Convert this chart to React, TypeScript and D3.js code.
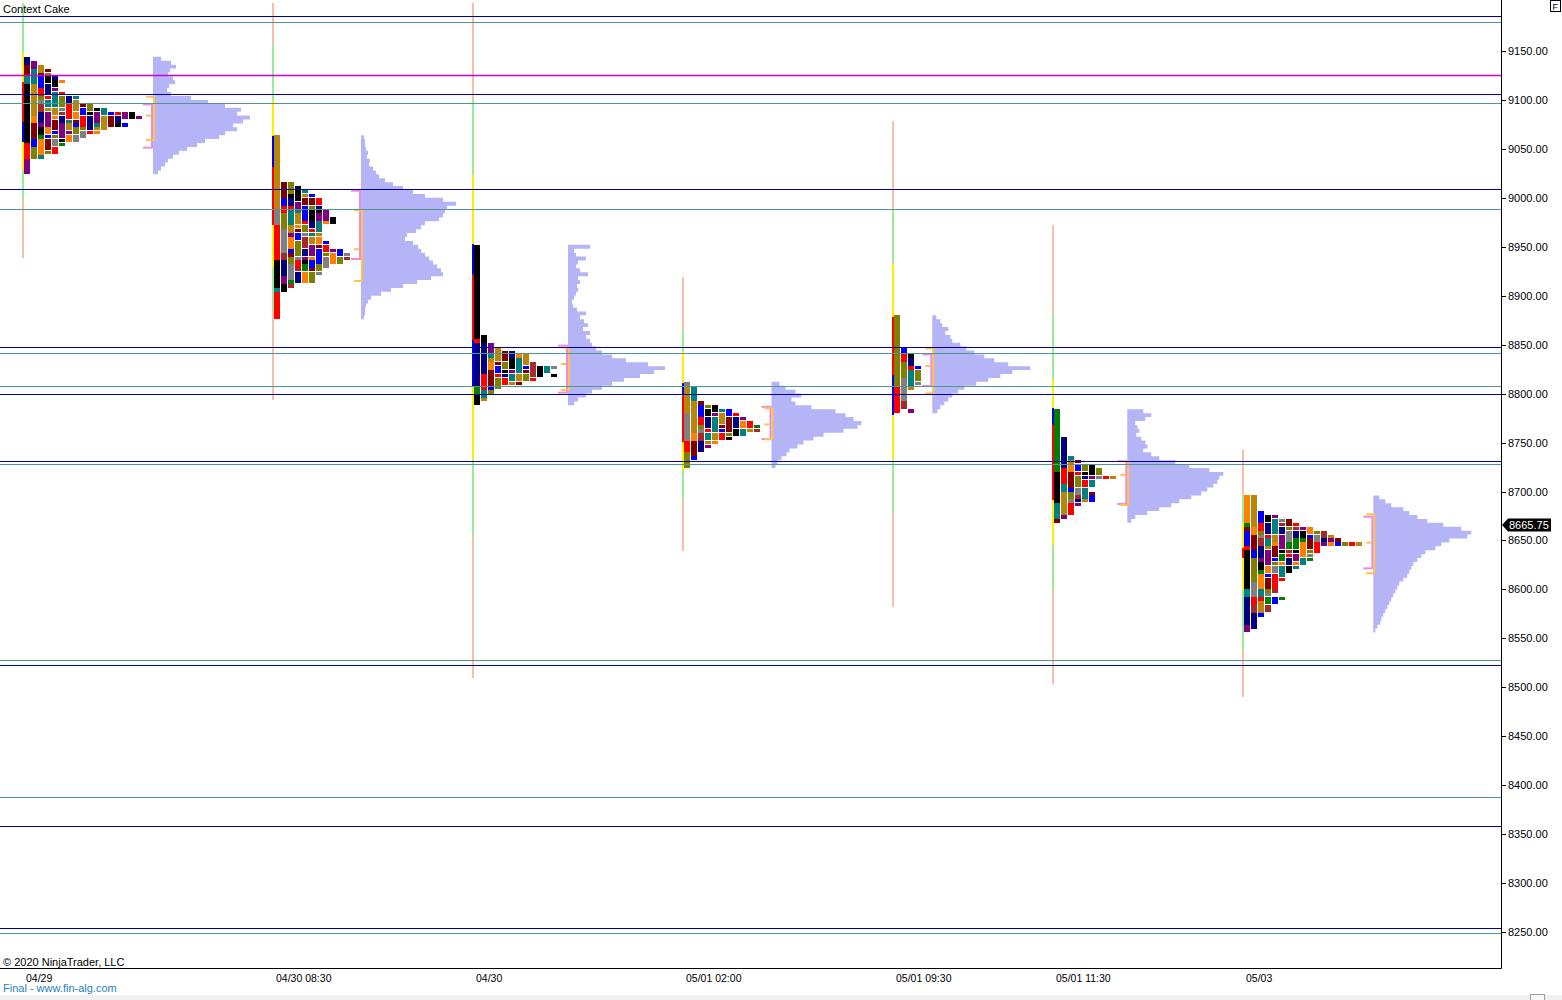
import React from 'react';
import * as d3 from 'd3';

// ---------- DATA ----------
const priceTicks = [9150, 9100, 9050, 9000, 8950, 8900, 8850, 8800, 8750, 8700, 8650, 8600, 8550, 8500, 8450, 8400, 8350, 8300, 8250];
const sessionLabels = ['04/29', '04/30 08:30', '04/30', '05/01 02:00', '05/01 09:30', '05/01 11:30', '05/03'];
const sessionSlots = [0, 25, 45, 66, 87, 103, 122];
const vpSlots = [13.0, 33.8, 54.5, 74.85, 90.93, 110.43, 135.03];
const profileTops = [9144, 9064, 8952, 8812, 8880, 8784, 8696];
const TPO_STEP = 4;
const lastPrice = 8665.75;

const navyLevels = [9185.75, 9106, 9009, 8847.5, 8799.5, 8731, 8522.75, 8358.25, 8254];
const tealLevels = [9179.5, 9097, 8988.5, 8841.5, 8807.75, 8728, 8528, 8388, 8249];
const magentaLevels = [9125.5];

// TPO columns: [column, high, low]
const tpoS1 = [[0, 9144, 9024], [1, 9140, 9040], [2, 9136, 9040], [3, 9132, 9044], [4, 9124, 9044], [5, 9120, 9116], [5, 9108, 9052], [6, 9104, 9056], [7, 9104, 9056], [8, 9096, 9060], [9, 9096, 9064], [10, 9092, 9064], [11, 9092, 9068], [12, 9088, 9072], [13, 9088, 9072], [14, 9088, 9080], [14, 9076, 9072], [15, 9088, 9080], [16, 9084, 9080]];
const tpoS2 = [[0, 9064, 8876], [1, 9016, 8904], [2, 9016, 8908], [3, 9012, 8912], [4, 9008, 8912], [5, 9004, 8912], [6, 9000, 8920], [7, 8988, 8972], [7, 8956, 8928], [8, 8980, 8972], [8, 8948, 8932], [9, 8948, 8932], [10, 8944, 8936]];
const tpoS3 = [[0, 8952, 8788], [1, 8860, 8792], [2, 8852, 8800], [3, 8848, 8804], [4, 8844, 8808], [5, 8844, 8808], [6, 8840, 8808], [7, 8840, 8812], [8, 8832, 8812], [9, 8828, 8816], [10, 8828, 8820], [11, 8828, 8824], [11, 8820, 8816]];
const tpoS4 = [[0, 8812, 8724], [1, 8808, 8732], [2, 8792, 8740], [3, 8788, 8744], [4, 8788, 8748], [5, 8784, 8752], [6, 8784, 8752], [7, 8780, 8756], [8, 8776, 8756], [9, 8772, 8760], [10, 8768, 8760]];
const tpoS5 = [[0, 8880, 8780], [1, 8848, 8784], [2, 8840, 8804], [2, 8784, 8780], [3, 8828, 8808]];
const tpoS6 = [[0, 8784, 8668], [1, 8756, 8672], [2, 8736, 8676], [3, 8732, 8684], [4, 8728, 8688], [5, 8728, 8704], [5, 8700, 8688], [6, 8724, 8712], [7, 8716, 8712], [8, 8716, 8712]];
const tpoS7 = [[0, 8696, 8556], [1, 8696, 8560], [2, 8680, 8572], [3, 8676, 8576], [4, 8676, 8596], [4, 8592, 8584], [5, 8672, 8608], [5, 8592, 8588], [6, 8672, 8616], [7, 8668, 8620], [8, 8664, 8624], [9, 8664, 8628], [10, 8660, 8636], [11, 8660, 8644], [12, 8656, 8644], [13, 8652, 8644], [14, 8648, 8644], [15, 8648, 8644], [16, 8648, 8644]];

// Volume profiles (relative volume per 4-pt row, from top)
const vpS1 = [8, 18, 23, 17, 15, 20, 22, 16, 14, 18, 38, 55, 72, 88, 84, 97, 90, 80, 84, 72, 66, 52, 44, 34, 26, 20, 15, 12, 8, 5];
const vpS2 = [3, 4, 4, 5, 7, 6, 9, 8, 12, 15, 18, 24, 32, 42, 52, 64, 82, 95, 86, 84, 82, 78, 64, 60, 55, 46, 44, 52, 57, 60, 64, 68, 72, 76, 80, 82, 70, 56, 42, 30, 20, 10, 7, 5, 4, 4, 3];
const vpS3 = [22, 6, 8, 18, 10, 8, 12, 20, 10, 12, 9, 10, 8, 6, 4, 5, 9, 18, 12, 16, 20, 15, 22, 18, 22, 24, 28, 34, 44, 58, 80, 97, 86, 72, 56, 44, 34, 24, 18, 10, 6];
const vpS4 = [8, 14, 24, 30, 20, 24, 40, 64, 74, 82, 90, 86, 72, 52, 42, 32, 26, 18, 15, 10, 6, 4];
const vpS5 = [4, 8, 10, 16, 13, 18, 20, 28, 34, 42, 52, 62, 76, 98, 80, 68, 56, 44, 32, 26, 20, 16, 12, 8, 5];
const vpS6 = [16, 24, 18, 8, 10, 12, 9, 14, 18, 20, 16, 24, 32, 48, 62, 82, 96, 92, 90, 86, 80, 74, 64, 52, 44, 32, 20, 8, 4];
const vpS7 = [6, 12, 18, 30, 36, 44, 54, 70, 88, 98, 94, 76, 68, 62, 52, 48, 44, 40, 38, 36, 34, 30, 26, 24, 22, 20, 18, 16, 14, 12, 10, 8, 7, 4, 2];

const pinkVA = [[9095.5, 9051.25], [9007.25, 8937.5], [8849, 8801], [8786.5, 8753.5], [8840.25, 8807.75], [8731, 8687.25], [8674.25, 8621.5]];
const orangeVA = [[9103.25, 9059], [8987.5, 8915], [8847.25, 8803.75], [8785, 8753.5], [8846.25, 8800.25], [8731, 8686.25], [8676.75, 8616.5]];
const tpoPOC = [9084, 8947.5, 8830.25, 8768.5, 8828.25, 8717, 8647.75];

// Session range line segments: [high, low, kind]
const lineS1 = [[9199, 9149, 'g'], [9149, 9118.25, 'y'], [9118.25, 9077.5, 'r'], [9077.5, 9057, 'b'], [9057, 9028.5, 'y'], [9028.5, 8997.75, 'g'], [8997.75, 8938.5, 's']];
const lineS2 = [[9199, 9156, 's'], [9156, 9100, 'g'], [9100, 9063.25, 'y'], [9063.25, 9031.5, 'b'], [9031.5, 8972.25, 'r'], [8972.25, 8929.25, 'y'], [8929.25, 8883.5, 'g'], [8883.5, 8793.5, 's']];
const lineS3 = [[9199, 9100, 's'], [9100, 9023.25, 'g'], [9023.25, 8952.75, 'y'], [8952.75, 8921.25, 'b'], [8921.25, 8854.75, 'r'], [8854.75, 8806.75, 'b'], [8806.75, 8732.25, 'y'], [8732.25, 8655.5, 'g'], [8655.5, 8509.5, 's']];
const lineS4 = [[8919, 8865, 's'], [8865, 8842.5, 'g'], [8842.5, 8810.75, 'y'], [8810.75, 8798.5, 'b'], [8798.5, 8750.5, 'r'], [8750.5, 8722, 'y'], [8722, 8691.25, 'g'], [8691.25, 8639.25, 's']];
const lineS5 = [[9078.5, 8988.5, 's'], [8988.5, 8932.5, 'g'], [8932.5, 8878.25, 'y'], [8878.25, 8819, 'r'], [8819, 8778, 'b'], [8778, 8732.25, 'y'], [8732.25, 8679, 'g'], [8679, 8582, 's']];
const lineS6 = [[8972.25, 8880.25, 's'], [8880.25, 8813.75, 'g'], [8813.75, 8785.25, 'y'], [8785.25, 8768, 'b'], [8768, 8691.25, 'r'], [8691.25, 8645.25, 'y'], [8645.25, 8599.5, 'g'], [8599.5, 8503.25, 's']];
const lineS7 = [[8742.5, 8696.5, 's'], [8696.5, 8667.75, 'g'], [8667.75, 8642.25, 'y'], [8642.25, 8632, 'r'], [8632, 8599.5, 'y'], [8599.5, 8538, 'g'], [8538, 8490, 's']];

const tpoData = [tpoS1, tpoS2, tpoS3, tpoS4, tpoS5, tpoS6, tpoS7];
const vpData = [vpS1, vpS2, vpS3, vpS4, vpS5, vpS6, vpS7];
const lineData = [lineS1, lineS2, lineS3, lineS4, lineS5, lineS6, lineS7];

// ---------- STYLE ----------
const PAL = ['#000080', '#800000', '#008080', '#000000', '#808080', '#ff8000', '#ff0000', '#808000', '#800080', '#0000ff', '#008000', '#b8860b', '#a52a2a'];
const COLOR_SEQ = [3, 0, 6, 2, 11, 8, 5, 9, 1, 7, 4, 10, 12, 6, 0, 3, 8, 2, 11, 5, 1, 9, 7, 4, 6, 12, 0, 10, 3, 8, 5, 2, 11, 1, 9, 6, 7, 4, 12, 0, 8, 3, 10, 5, 2, 6, 11, 9, 1, 7];
const RUN_SEQ = [2, 1, 3, 1, 1, 2, 4, 1, 2, 1, 3, 2, 1, 1, 2, 3, 1, 2, 1, 4];
// first-column colour runs per session: [rows, palette index]
const COL0_RUNS = [
  [[2, 0], [3, 1], [2, 2], [15, 3], [4, 6], [4, 8]],
  [[19, 11], [4, 4], [9, 6], [7, 3], [1, 2], [7, 6]],
  [[24, 3], [1, 6], [11, 0], [2, 10], [3, 3]],
  [[1, 4], [7, 11], [7, 4], [3, 6], [4, 7]],
  [[18, 7], [7, 6]],
  [[16, 10], [8, 3], [4, 2], [1, 1]],
  [[7, 5], [1, 10], [1, 1], [4, 9], [1, 6], [10, 3], [2, 2], [7, 0], [2, 8]],
];
const LINE_COL: Record<string, string> = { s: '#f7bfa8', g: '#98ec98', y: '#ffee00', r: '#ff0000', b: '#0000e0' };
const FONT = '"Liberation Sans", Arial, sans-serif';

function tpoCells(segs: number[][], s: number) {
  const cells: { col: number; hi: number; lo: number; color: string }[] = [];
  segs.forEach(([col, hi, lo], si) => {
    const n = Math.round((hi - lo) / TPO_STEP);
    if (col === 0) {
      let r = 0;
      COL0_RUNS[s].forEach(([len, ci]) => {
        const l = Math.min(len, n - r);
        if (l > 0) cells.push({ col, hi: hi - r * TPO_STEP, lo: hi - (r + l) * TPO_STEP, color: PAL[ci] });
        r += l;
      });
      return;
    }
    const mult = col === 1 ? 2 : 1;
    let r = 0, run = 0, last = -1;
    while (r < n) {
      let len = RUN_SEQ[(col * 3 + s * 7 + si + run) % RUN_SEQ.length] * mult;
      len = Math.min(len, n - r);
      let ci = COLOR_SEQ[(col * 11 + s * 17 + si * 5 + run) % COLOR_SEQ.length];
      if (ci === last) ci = (ci + 1) % PAL.length;
      cells.push({ col, hi: hi - r * TPO_STEP, lo: hi - (r + len) * TPO_STEP, color: PAL[ci] });
      last = ci; r += len; run++;
    }
  });
  return cells;
}

export default function App() {
  const W = 1562, H = 1000, PR = 1501, PB = 968;
  const x = d3.scaleLinear().domain([0, 147.8]).range([23, PR]);
  const y = d3.scaleLinear().domain([8250, 9150]).range([932, 51]);
  const v = d3.scaleLinear().domain([0, 100]).range([0, 100]);
  const slotW = x(1) - x(0);
  const crisp = (p: number) => Math.round(y(p)) + 0.5;

  const area = d3.area<any>()
    .y((d: any) => d[1])
    .x0((d: any) => d[2])
    .x1((d: any) => d[0])
    .curve(d3.curveStepBefore);

  return (
    <div style={{ position: 'absolute', left: 0, top: 0 }}>
      <svg width={W} height={H} style={{ display: 'block', background: '#fff' }} fontFamily={FONT}>
        <rect x={0} y={0} width={W} height={H} fill="#fff" />
        <clipPath id="plotclip"><rect x={0} y={0} width={PR} height={PB} /></clipPath>
        <g clipPath="url(#plotclip)">
          {/* session range lines */}
          {lineData.map((segs, s) => segs.map((sg, i) => (
            <rect key={`l${s}-${i}`} x={x(sessionSlots[s]) - 1} y={y(sg[0] as number)} width={2}
              height={y(sg[1] as number) - y(sg[0] as number)} fill={LINE_COL[sg[2] as string]} />
          )))}
          {/* TPO */}
          {tpoData.map((segs, s) => tpoCells(segs as number[][], s).map((c, i) => (
            <rect key={`t${s}-${i}`} x={x(sessionSlots[s] + 0.1 + 0.7 * c.col)} y={y(c.hi)}
              width={slotW * 0.6} height={Math.max(1, y(c.lo) - y(c.hi) - (c.col >= 3 ? 0.8 : 0))}
              fill={c.color} shapeRendering="crispEdges" />
          )))}
          {/* Volume profiles */}
          {vpData.map((vals, s) => {
            const x0 = x(vpSlots[s]);
            const top = profileTops[s];
            const pts: any[] = vals.map((val, k) => [x0 + v(val), y(top - k * TPO_STEP), x0]);
            pts.push([x0 + v(vals[vals.length - 1]), y(top - vals.length * TPO_STEP), x0]);
            return <path key={`v${s}`} d={area(pts) || ''} fill="#b4b4f6" />;
          })}
          {/* value area brackets */}
          {pinkVA.map((va, s) => {
            const x0 = x(vpSlots[s]);
            const y1 = y(va[0]), y2 = y(va[1]);
            return (
              <g key={`pk${s}`} stroke="#f08ae0" strokeWidth={2} fill="none">
                <line x1={x0 - 1} x2={x0 - 1} y1={y1} y2={y2} />
                <line x1={x0 - 10} x2={x0} y1={y1} y2={y1} />
                <line x1={x0 - 10} x2={x0} y1={y2} y2={y2} />
              </g>
            );
          })}
          {orangeVA.map((va, s) => {
            const x0 = x(vpSlots[s]);
            const y1 = y(va[0]), y2 = y(va[1]), yp = y(tpoPOC[s]);
            return (
              <g key={`or${s}`} stroke="#ffc24a" strokeWidth={2} fill="none">
                <line x1={x0 + 1} x2={x0 + 1} y1={y1} y2={y2} />
                <line x1={x0 - 7} x2={x0 + 1} y1={y1} y2={y1} />
                <line x1={x0 - 7} x2={x0 + 1} y1={y2} y2={y2} />
                <line x1={x0 - 7} x2={x0 - 2} y1={yp} y2={yp} />
              </g>
            );
          })}
          {/* horizontal levels */}
          {tealLevels.map((p, i) => <line key={`tl${i}`} x1={0} x2={PR} y1={crisp(p)} y2={crisp(p)} stroke="#4f9696" strokeWidth={1} />)}
          {navyLevels.map((p, i) => <line key={`nl${i}`} x1={0} x2={PR} y1={crisp(p)} y2={crisp(p)} stroke="#0000a8" strokeWidth={1} />)}
          {magentaLevels.map((p, i) => <line key={`ml${i}`} x1={0} x2={PR} y1={crisp(p)} y2={crisp(p)} stroke="#d000c8" strokeWidth={1.3} />)}
        </g>

        {/* axes frame */}
        <line x1={PR + 0.5} x2={PR + 0.5} y1={0} y2={PB + 0.5} stroke="#000" />
        <line x1={0} x2={PR + 0.5} y1={PB + 0.5} y2={PB + 0.5} stroke="#000" />
        {priceTicks.map(p => (
          <g key={`yt${p}`}>
            <line x1={PR} x2={PR + 5} y1={crisp(p)} y2={crisp(p)} stroke="#000" />
            <text x={PR + 7} y={y(p) + 4} fontSize={11} fill="#000">{p.toFixed(2)}</text>
          </g>
        ))}
        {/* last price tag */}
        <path d={`M${PR + 1},${y(lastPrice)} L${PR + 7},${y(lastPrice) - 6.5} L${PR + 50},${y(lastPrice) - 6.5} L${PR + 50},${y(lastPrice) + 6.5} L${PR + 7},${y(lastPrice) + 6.5} Z`} fill="#000" />
        <text x={PR + 8} y={y(lastPrice) + 4} fontSize={11} fill="#fff">{lastPrice.toFixed(2)}</text>

        {/* x labels */}
        {sessionLabels.map((lab, i) => (
          <text key={`xl${i}`} x={x(sessionSlots[i]) + 3} y={982} fontSize={10.5} fill="#000">{lab}</text>
        ))}

        <text x={3} y={13} fontSize={11} fill="#000">Context Cake</text>
        <text x={3} y={966} fontSize={11} fill="#000">© 2020 NinjaTrader, LLC</text>
        <text x={3} y={992} fontSize={11} fill="#1f7fc4">Final - www.fin-alg.com</text>

        {/* F box */}
        <rect x={1550.5} y={0.5} width={10} height={11} fill="#fff" stroke="#000" />
        <text x={1552.5} y={10} fontSize={9} fill="#000">F</text>

        {/* bottom strip */}
        <rect x={0} y={995} width={W} height={5} fill="#f0f0f0" />
        <rect x={1530.5} y={994.5} width={14} height={6} fill="#f8f8f8" stroke="#a0a0a0" />
      </svg>
    </div>
  );
}
